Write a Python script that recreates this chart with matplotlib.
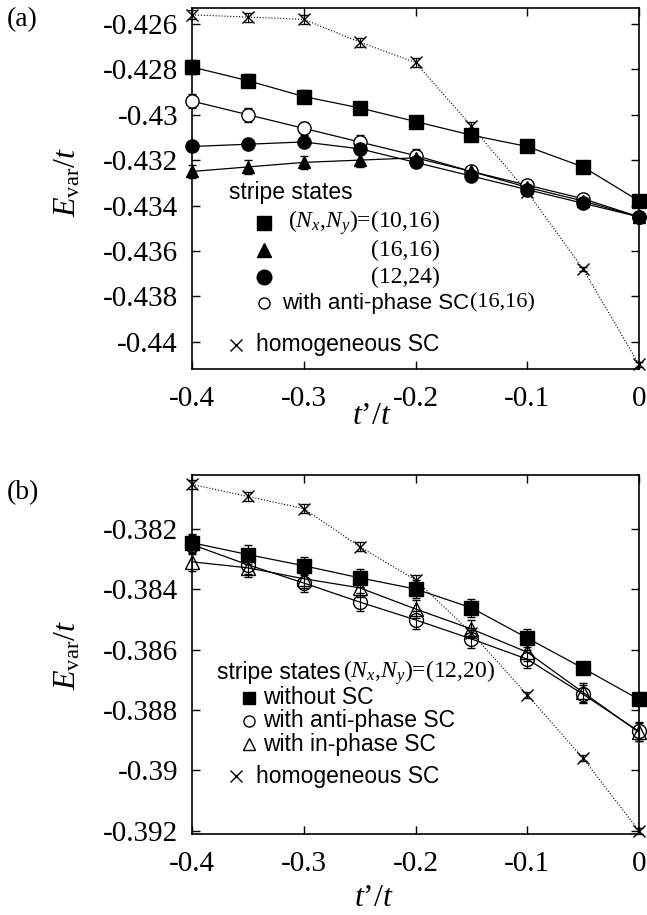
#!/usr/bin/env python3
import matplotlib
matplotlib.use('Agg')
import matplotlib.pyplot as plt
from matplotlib.ticker import FuncFormatter, MultipleLocator

plt.rcParams['font.family'] = 'Liberation Serif'
plt.rcParams['mathtext.fontset'] = 'custom'
plt.rcParams['mathtext.rm'] = 'Liberation Serif'
plt.rcParams['mathtext.it'] = 'Liberation Serif:italic'

# t'/t values shared by both panels
tp = [-0.4, -0.35, -0.3, -0.25, -0.2, -0.15, -0.1, -0.05, 0.0]

# panel (a): stripe states of different sizes + homogeneous SC
sq_a = [-0.4279, -0.4285, -0.4292, -0.4297, -0.4303, -0.4309, -0.4314, -0.4323, -0.4338]
sq_a_err = [0.0003, 0.0003, 0.0003, 0.0002, 0.0002, 0.0002, 0.0001, 0.0001, 0.0001]
tri_a = [-0.4325, -0.4323, -0.4321, -0.4320, -0.4319, -0.4325, -0.4332, -0.4338, -0.4345]
tri_a_err = [0.0003, 0.0003, 0.0003, 0.0003, 0.0003, 0.0002, 0.0002, 0.0002, 0.0001]
cir_a = [-0.4314, -0.4313, -0.4312, -0.4315, -0.4321, -0.4327, -0.4333, -0.4339, -0.4345]
cir_a_err = [0.0002, 0.0002, 0.0002, 0.0002, 0.0002, 0.0002, 0.0002, 0.0001, 0.0001]
ocir_a = [-0.4294, -0.4300, -0.4306, -0.4312, -0.4318, -0.4325, -0.4331, -0.4337, -0.4345]
ocir_a_err = [0.0003, 0.0003, 0.0003, 0.0003, 0.0003, 0.0002, 0.0002, 0.0002, 0.0001]
hom_a = [-0.4256, -0.4257, -0.4258, -0.4268, -0.4277, -0.4305, -0.4334, -0.4368, -0.4410]
hom_a_err = [0.0002, 0.0002, 0.0002, 0.0002, 0.0002, 0.0002, 0.0001, 0.0001, 0.0001]

# panel (b): (12,20) stripes with / without SC + homogeneous SC
sq_b = [-0.38247, -0.38286, -0.38323, -0.38363, -0.38400, -0.38462, -0.38562, -0.38662, -0.38765]
sq_b_err = [0.0003, 0.0003, 0.0003, 0.0003, 0.0003, 0.0003, 0.0003, 0.0002, 0.0002]
ocir_b = [-0.38253, -0.38320, -0.38380, -0.38443, -0.38502, -0.38565, -0.38632, -0.38748, -0.38871]
ocir_b_err = [0.0003, 0.0003, 0.0003, 0.0003, 0.0003, 0.0003, 0.0003, 0.0003, 0.0003]
tri_b = [-0.38310, -0.38330, -0.38366, -0.38396, -0.38466, -0.38532, -0.38609, -0.38742, -0.38874]
tri_b_err = [0.0003, 0.0003, 0.0003, 0.0003, 0.0003, 0.0003, 0.0003, 0.0003, 0.0003]
hom_b = [-0.38054, -0.38094, -0.38134, -0.38260, -0.38370, -0.38545, -0.38750, -0.38960, -0.39200]
hom_b_err = [0.00015, 0.00015, 0.00015, 0.00015, 0.00015, 0.00015, 0.0001, 0.0001, 0.0001]

W, H = 647, 915
fig = plt.figure(figsize=(W / 100, H / 100), dpi=100)


def fx(px):
    return px / W


def fy(py):
    return 1 - py / H


def gfmt(v, pos):
    return '%g' % round(v, 6)


def style_axes(ax, ylim, ystep):
    ax.set_xlim(-0.4, 0.0)
    ax.set_ylim(*ylim)
    ax.xaxis.set_major_locator(MultipleLocator(0.1))
    ax.yaxis.set_major_locator(MultipleLocator(ystep))
    ax.xaxis.set_major_formatter(FuncFormatter(gfmt))
    ax.yaxis.set_major_formatter(FuncFormatter(gfmt))
    ax.tick_params(direction='in', top=True, right=True, length=6, width=1,
                   labelsize=21)
    ax.tick_params(axis='x', pad=12)
    ax.tick_params(axis='y', pad=10)
    for s in ax.spines.values():
        s.set_linewidth(1.2)


def series(ax, y, err, marker, ms, mfc='k', ls='-', lw=0.9):
    ax.errorbar(tp, y, yerr=err, color='k', ls=ls, lw=lw, marker=marker, ms=ms,
                mfc=mfc, mec='k', mew=1.0, elinewidth=0.8, capsize=3, capthick=0.8,
                clip_on=False, zorder=3)


def key(marker, px, py, ms, mfc='k'):
    # legend key drawn in figure pixels
    fig.lines.append(plt.Line2D([fx(px)], [fy(py)], transform=fig.transFigure,
                                marker=marker, ms=ms, mfc=mfc, mec='k', mew=1.0,
                                ls='none', color='k'))


sans = 'Liberation Sans'
LS = 16.5   # legend sans size
LR = 17     # legend serif size

# ---- panel (a)
ax1 = fig.add_axes([fx(192), fy(369), fx(639) - fx(192), fy(8) - fy(369)])
style_axes(ax1, (-0.4412, -0.4253), 0.002)
series(ax1, hom_a, hom_a_err, 'x', 9, ls=':', lw=0.8)
series(ax1, sq_a, sq_a_err, 's', 9.5)
series(ax1, ocir_a, ocir_a_err, 'o', 9.5, mfc='white')
series(ax1, cir_a, cir_a_err, 'o', 9.5)
series(ax1, tri_a, tri_a_err, '^', 9)

fig.text(fx(229), fy(193), 'stripe states', family=sans, fontsize=LS, va='center')
key('s', 264, 223, 10.5)
key('^', 264, 250, 10.5)
key('o', 264, 277, 10.5)
key('o', 264, 303, 8, mfc='white')
key('x', 236, 345, 8)
fig.text(fx(440), fy(223), '($N_x$,$N_y$)=(10,16)', fontsize=LR, va='center', ha='right')
fig.text(fx(440), fy(250), '(16,16)', fontsize=LR, va='center', ha='right')
fig.text(fx(440), fy(277), '(12,24)', fontsize=LR, va='center', ha='right')
t_anti = fig.text(fx(282), fy(303), 'with anti-phase SC', family=sans, fontsize=16,
                  va='center')
ax1.annotate('(16,16)', xy=(1, 0.5), xycoords=t_anti, xytext=(0.5, 0),
             textcoords='offset points', va='center', ha='left', fontsize=16,
             annotation_clip=False)
fig.text(fx(256), fy(345), 'homogeneous SC', family=sans, fontsize=LS, va='center')

fig.text(fx(7), fy(20), '(a)', fontsize=20, va='center')
fig.text(fx(68), fy(182), '$E_{\\mathrm{var}}$/$t$', fontsize=23, rotation=90,
         va='center', ha='center')
fig.text(fx(372), fy(416), '$t$\u2019/$t$', fontsize=23, va='center', ha='center')

# ---- panel (b)
ax2 = fig.add_axes([fx(192), fy(834), fx(639) - fx(192), fy(475) - fy(834)])
style_axes(ax2, (-0.3921, -0.38023), 0.002)
series(ax2, hom_b, hom_b_err, 'x', 9, ls=':', lw=0.8)
series(ax2, sq_b, sq_b_err, 's', 9.5)
series(ax2, ocir_b, ocir_b_err, 'o', 10, mfc='none')
series(ax2, tri_b, tri_b_err, '^', 9.5, mfc='none')

t_ss = fig.text(fx(217), fy(673), 'stripe states', family=sans, fontsize=LS,
                va='center')
ax2.annotate('($N_x$,$N_y$)=(12,20)', xy=(1, 0.5), xycoords=t_ss, xytext=(2, 0),
             textcoords='offset points', va='center', ha='left', fontsize=LR,
             annotation_clip=False)
key('s', 249, 698, 8)
key('o', 249, 721, 8, mfc='white')
key('^', 249, 744, 8, mfc='white')
key('x', 236, 776, 8)
fig.text(fx(263), fy(698), 'without SC', family=sans, fontsize=LS, va='center')
fig.text(fx(263), fy(721), 'with anti-phase SC', family=sans, fontsize=LS, va='center')
fig.text(fx(263), fy(744), 'with in-phase SC', family=sans, fontsize=LS, va='center')
fig.text(fx(256), fy(776), 'homogeneous SC', family=sans, fontsize=LS, va='center')

fig.text(fx(7), fy(493), '(b)', fontsize=20, va='center')
fig.text(fx(68), fy(655), '$E_{\\mathrm{var}}$/$t$', fontsize=23, rotation=90,
         va='center', ha='center')
fig.text(fx(374), fy(898), '$t$\u2019/$t$', fontsize=23, va='center', ha='center')

fig.savefig('out.png', dpi=100)
